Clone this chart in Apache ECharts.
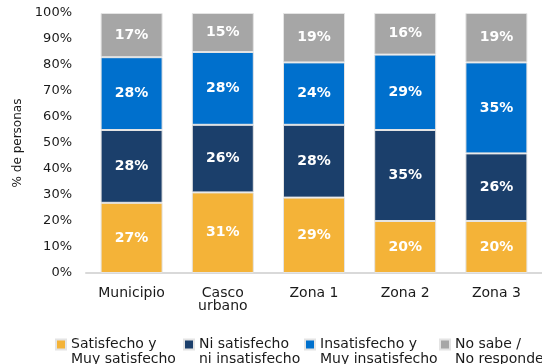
<!DOCTYPE html>
<html>
<head>
<meta charset="utf-8">
<script src="https://cdn.jsdelivr.net/npm/echarts@6/dist/echarts.min.js"></script>
<style>
  html, body { margin: 0; padding: 0; background: #fff; }
  #chart { width: 542px; height: 364px; }
</style>
</head>
<body>
<div id="chart"></div>
<script>
// Categories and series (percent of respondents)
const categories = ['Municipio', 'Casco\nurbano', 'Zona 1', 'Zona 2', 'Zona 3'];
const seriesNames = ['Satisfecho y\nMuy satisfecho', 'Ni satisfecho\nni insatisfecho', 'Insatisfecho y\nMuy insatisfecho', 'No sabe /\nNo responde'];
const satisfecho = [27, 31, 29, 20, 20];
const niSatisfecho = [28, 26, 28, 35, 26];
const insatisfecho = [28, 28, 24, 29, 35];
const noSabe = [17, 15, 19, 16, 19];
const yTicks = [0, 10, 20, 30, 40, 50, 60, 70, 80, 90, 100];

const colors = ['#F4B338', '#1B3F6B', '#0070CD', '#A6A6A6'];
const values = [satisfecho, niSatisfecho, insatisfecho, noSabe];
const font = 'DejaVu Sans';

const chart = echarts.init(document.getElementById('chart'));

const series = seriesNames.map((name, i) => ({
  name: name,
  type: 'bar',
  stack: 'total',
  barWidth: 62,
  data: values[i],
  itemStyle: { color: colors[i], borderColor: '#e4e4e4', borderWidth: 1 },
  label: {
    show: true,
    position: 'inside',
    color: '#fff',
    fontFamily: font,
    fontWeight: 'bold',
    fontSize: 14,
    formatter: p => p.value + '%'
  }
}));

// One legend per entry so each swatch sits at its own column;
// a leading blank line keeps the swatch level with the first text line.
const legendLefts = [50, 178, 299, 434];
const legends = seriesNames.map((name, i) => ({
  data: [name],
  left: legendLefts[i],
  top: 317,
  itemWidth: 10,
  itemHeight: 10,
  icon: 'rect',
  formatter: n => '\n' + n,
  textStyle: {
    fontFamily: font,
    fontSize: 14,
    color: '#1a1a1a',
    lineHeight: 15
  }
}));

chart.setOption({
  animation: false,
  color: colors,
  grid: { left: 86, top: 13, width: 460, height: 260, containLabel: false },
  legend: legends,
  xAxis: {
    type: 'category',
    data: categories,
    axisLine: { lineStyle: { color: '#d9d9d9', width: 2 } },
    axisTick: { show: false },
    axisLabel: {
      fontFamily: font,
      fontSize: 14,
      color: '#1a1a1a',
      lineHeight: 13,
      margin: 14,
      interval: 0
    }
  },
  yAxis: {
    type: 'value',
    min: 0,
    max: 100,
    interval: 10,
    name: '% de personas',
    nameLocation: 'middle',
    nameGap: 57,
    nameTextStyle: { fontFamily: font, fontSize: 12, color: '#1a1a1a' },
    axisLine: { show: false },
    axisTick: { show: false },
    splitLine: { show: false },
    axisLabel: {
      fontFamily: font,
      fontSize: 13,
      color: '#1a1a1a',
      margin: 14,
      formatter: v => (yTicks.indexOf(v) >= 0 ? v + '%' : '')
    }
  },
  series: series
});
</script>
</body>
</html>
